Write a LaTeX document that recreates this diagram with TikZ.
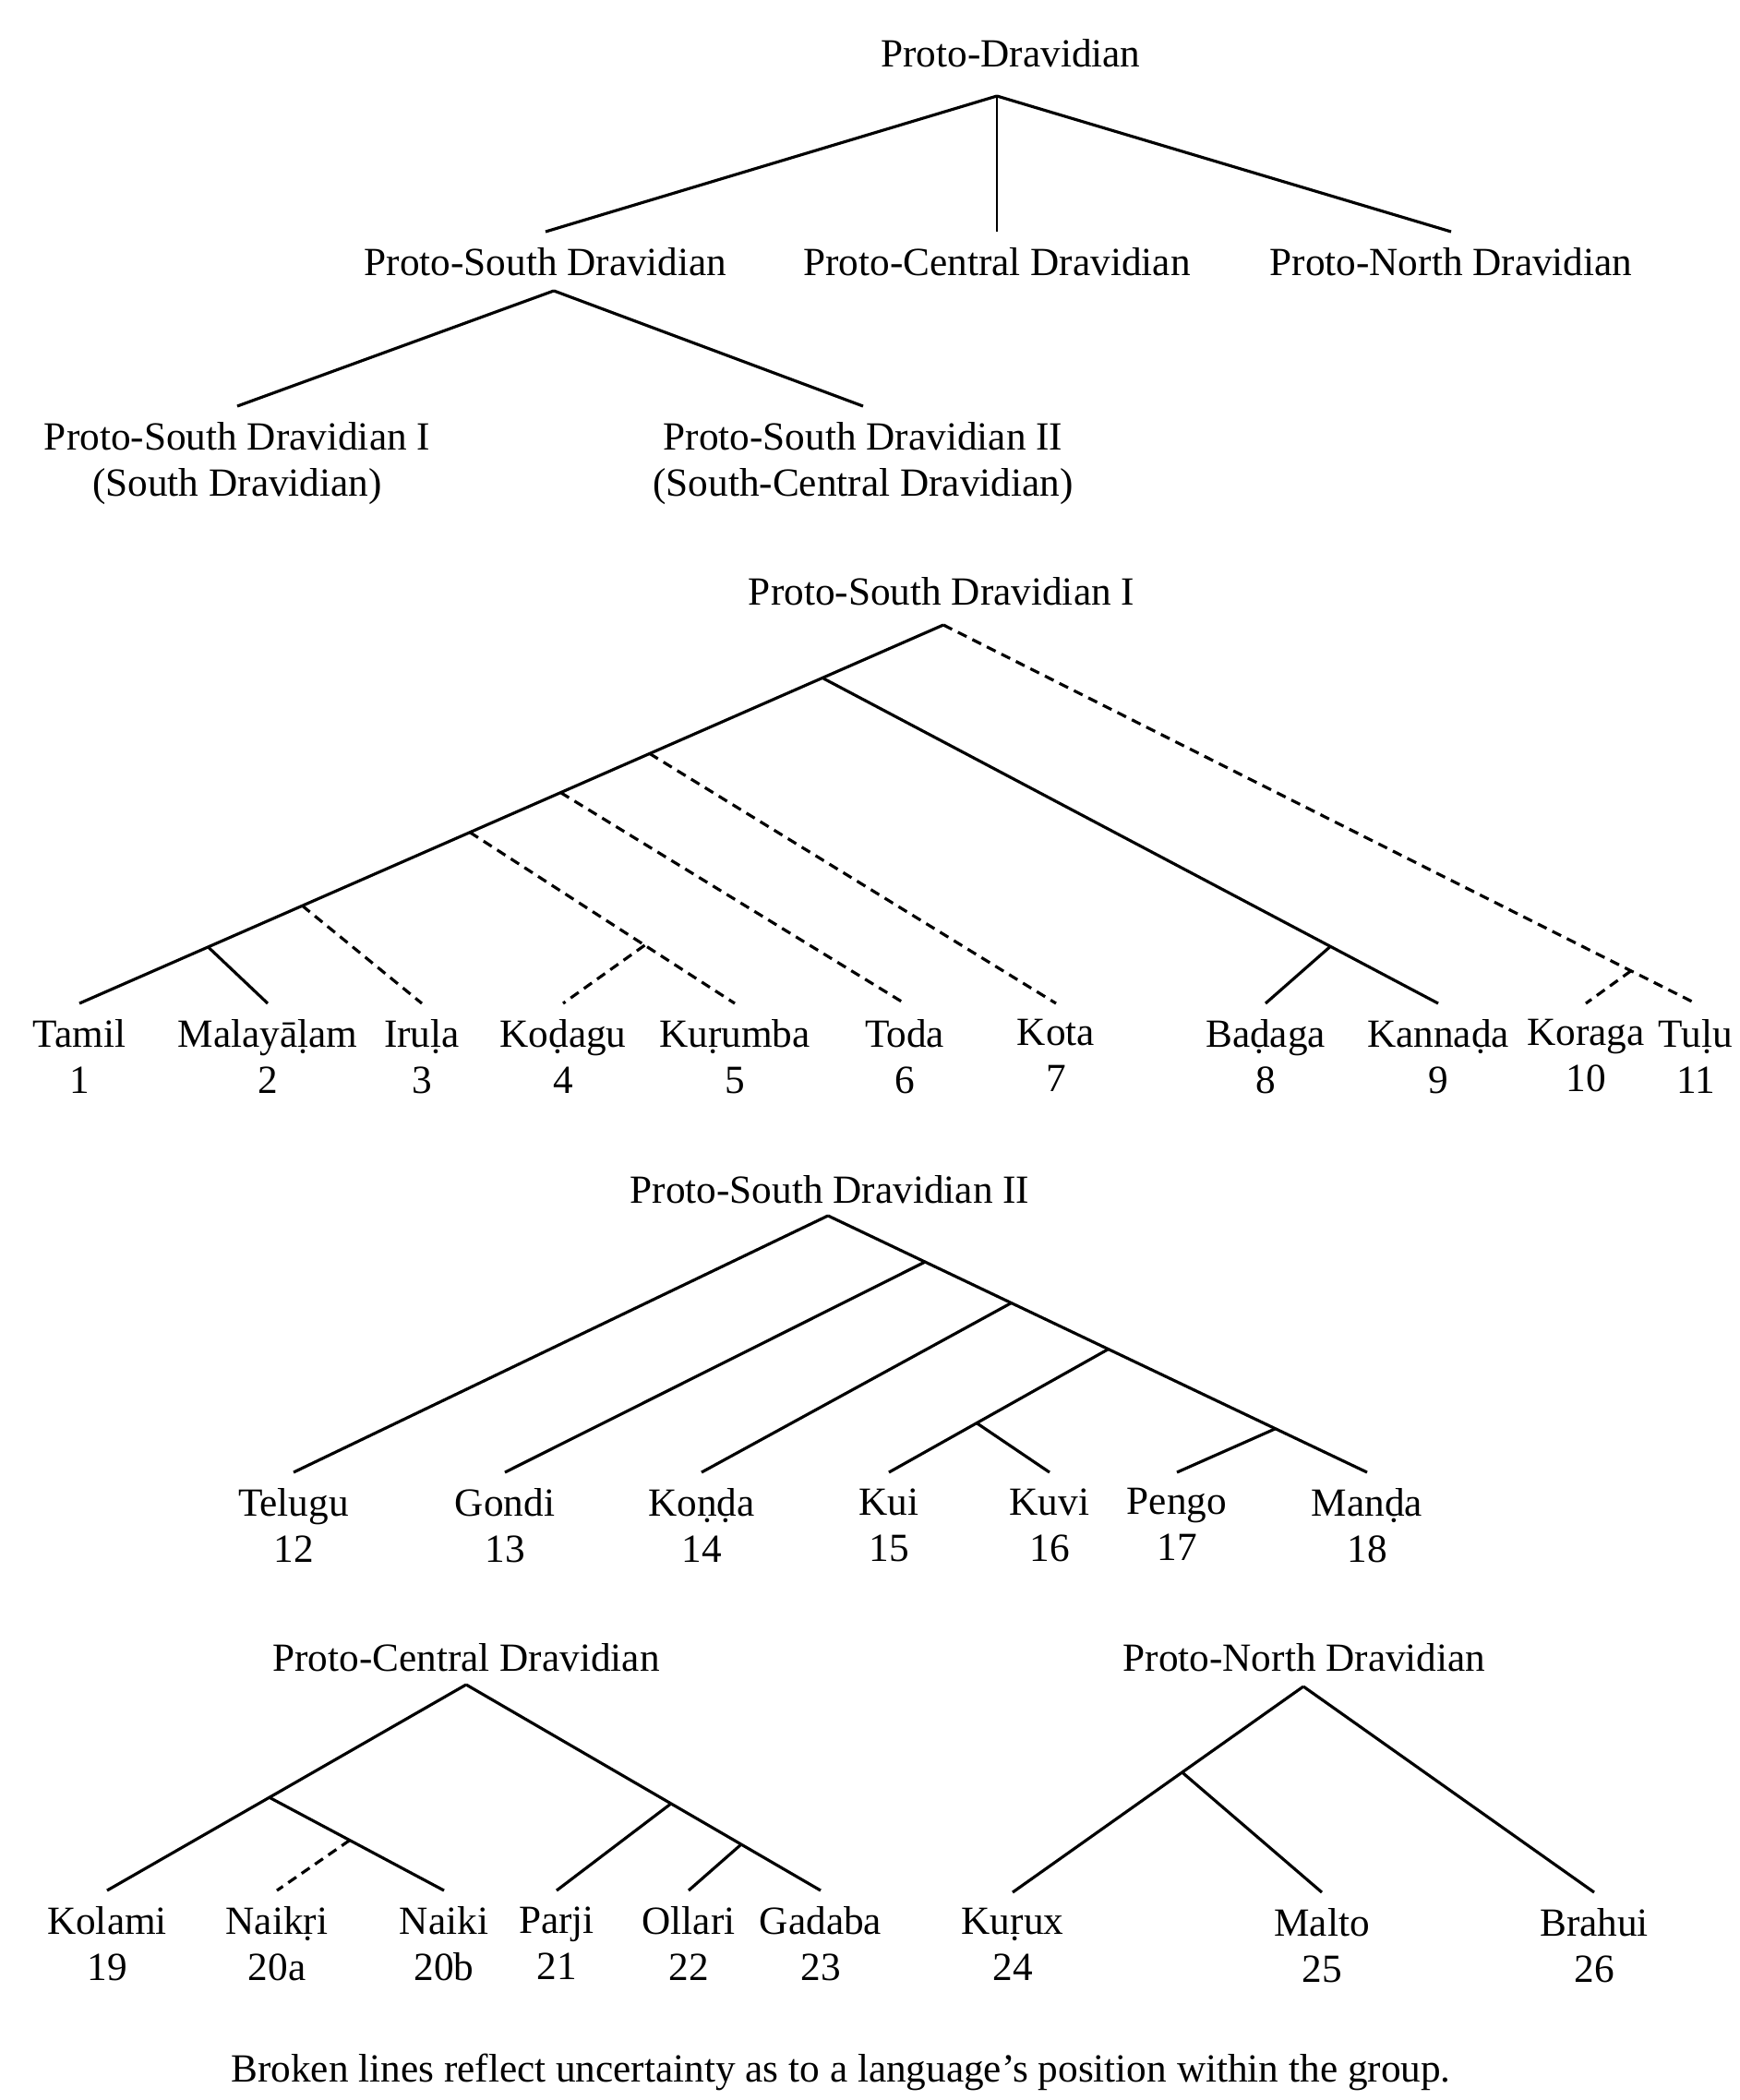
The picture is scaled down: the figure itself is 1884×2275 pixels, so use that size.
\documentclass[tikz,border=0pt]{standalone}
\usepackage{fontspec}
\setmainfont{Liberation Serif}
\usetikzlibrary{calc}
\tikzset{
  lang/.style={align=center, anchor=north, inner xsep=1pt, inner ysep=4.8pt},
  head/.style={anchor=base, inner sep=0pt},
  solidln/.style={line width=.9pt},
  brokenln/.style={line width=.9pt, dash pattern=on 3pt off 2pt},
}
\begin{document}
\begin{tikzpicture}[x=0.01cm, y=-0.01cm,
  every node/.style={font=\fontsize{12.3}{14.2}\selectfont}]
  \useasboundingbox (0,0) rectangle (1884,2275);

  \node[head] (pd) at (1095,72) {Proto-Dravidian};
  \coordinate (pd-0) at (1080,104);
  \node[lang] (psd) at (591,251) {Proto-South Dravidian};
  \node[lang] (pcd) at (1080,251) {Proto-Central Dravidian};
  \node[lang] (pnd) at (1572,251) {Proto-North Dravidian};
  \coordinate (psd-0) at (600,315);
  \node[lang] (psd1) at (257,440) {Proto-South Dravidian I\\(South Dravidian)};
  \node[lang] (psd2) at (935,440) {Proto-South Dravidian II\\(South-Central Dravidian)};
  \path[solidln] (pd-0) edge (psd.north) (pd-0) edge (pnd.north);
  \path[solidln] (psd-0) edge (psd1.north) (psd-0) edge (psd2.north);
  \path[line width=.5pt] (pd-0) edge (pcd.north);

  \node[head] (psd1-t) at (1020,655) {Proto-South Dravidian I};
  \coordinate (r2) at (1022,677);
  \node[lang] (tam) at (86,1087) {Tamil\\1};
  \node[lang] (mal) at (290,1087) {Malayāḷam\\2};
  \node[lang] (iru) at (457,1087) {Iruḷa\\3};
  \node[lang] (kod) at (610,1087) {Koḍagu\\4};
  \node[lang] (kur) at (796,1087) {Kuṛumba\\5};
  \node[lang] (tod) at (980,1087) {Toda\\6};
  \node[lang] (kot) at (1144,1087) {Kota\\7};
  \node[lang] (bad) at (1371,1087) {Baḍaga\\8};
  \node[lang] (kan) at (1558,1087) {Kannaḍa\\9};
  \node[lang] (kor) at (1718,1087) {Koraga\\10};
  \node[lang] (tul) at (1837,1087) {Tuḷu\\11};
  \coordinate (c-kan) at ($(r2)!.14!(tam.north)$);
  \coordinate (c-kot) at ($(r2)!.34!(tam.north)$);
  \coordinate (c-tod) at ($(r2)!.443!(tam.north)$);
  \coordinate (c-kur) at ($(r2)!.548!(tam.north)$);
  \coordinate (c-iru) at ($(r2)!.742!(tam.north)$);
  \coordinate (c-mal) at ($(r2)!.851!(tam.north)$);
  \coordinate (c-bad) at ($(c-kan)!.825!(kan.north)$);
  \coordinate (c-kod) at ($(c-kur)!.66!(kur.north)$);
  \coordinate (c-kor) at ($(r2)!.914!(tul.north)$);
  \path[solidln] (r2) edge (tam.north) (c-kan) edge (kan.north)
    (c-bad) edge (bad.north) (c-mal) edge (mal.north);
  \path[brokenln] (r2) edge (tul.north) (c-kor) edge (kor.north)
    (c-kot) edge (kot.north) (c-tod) edge (tod.north)
    (c-kur) edge (kur.north) (c-kod) edge (kod.north)
    (c-iru) edge (iru.north);

  \node[head] (psd2-t) at (899,1303) {Proto-South Dravidian II};
  \coordinate (r3) at (897,1317);
  \node[lang] (tel) at (318,1595) {Telugu\\12};
  \node[lang] (gon) at (547,1595) {Gondi\\13};
  \node[lang] (kon) at (760,1595) {Koṇḍa\\14};
  \node[lang] (kui) at (963,1595) {Kui\\15};
  \node[lang] (kuv) at (1137,1595) {Kuvi\\16};
  \node[lang] (pen) at (1275,1595) {Pengo\\17};
  \node[lang] (man) at (1481,1595) {Manḍa\\18};
  \coordinate (c-gon) at ($(r3)!.18!(man.north)$);
  \coordinate (c-kon) at ($(r3)!.34!(man.north)$);
  \coordinate (c-kui) at ($(r3)!.52!(man.north)$);
  \coordinate (c-pen) at ($(r3)!.83!(man.north)$);
  \coordinate (c-kuv) at ($(c-kui)!.6!(kui.north)$);
  \path[solidln] (r3) edge (tel.north) (r3) edge (man.north)
    (c-gon) edge (gon.north) (c-kon) edge (kon.north)
    (c-kui) edge (kui.north) (c-kuv) edge (kuv.north)
    (c-pen) edge (pen.north);

  \node[head] (pcd-t) at (505,1810) {Proto-Central Dravidian};
  \coordinate (r4) at (505,1825);
  \node[lang] (kol) at (116,2048) {Kolami\\19};
  \node[lang] (nkr) at (300,2048) {Naikṛi\\20a};
  \node[lang] (nai) at (481,2048) {Naiki\\20b};
  \node[lang] (par) at (603,2048) {Parji\\21};
  \node[lang] (oll) at (746,2048) {Ollari\\22};
  \node[lang] (gad) at (889,2048) {Gadaba\\23};
  \coordinate (c-nai) at ($(r4)!.548!(kol.north)$);
  \coordinate (c-nkr) at ($(c-nai)!.46!(nai.north)$);
  \coordinate (c-par) at ($(r4)!.578!(gad.north)$);
  \coordinate (c-oll) at ($(r4)!.776!(gad.north)$);
  \path[solidln] (r4) edge (kol.north) (c-nai) edge (nai.north)
    (r4) edge (gad.north) (c-par) edge (par.north)
    (c-oll) edge (oll.north);
  \path[brokenln] (c-nkr) edge (nkr.north);

  \node[head] (pnd-t) at (1413,1810) {Proto-North Dravidian};
  \coordinate (r5) at (1412,1827);
  \node[lang] (kux) at (1097,2050) {Kuṛux\\24};
  \node[lang] (mlt) at (1432,2050) {Malto\\25};
  \node[lang] (bra) at (1727,2050) {Brahui\\26};
  \coordinate (c-mlt) at ($(r5)!.417!(kux.north)$);
  \path[solidln] (r5) edge (kux.north) (c-mlt) edge (mlt.north)
    (r5) edge (bra.north);

  \node[head] (note) at (911,2255) {Broken lines reflect uncertainty as to a language’s position within the group.};
\end{tikzpicture}
\end{document}
